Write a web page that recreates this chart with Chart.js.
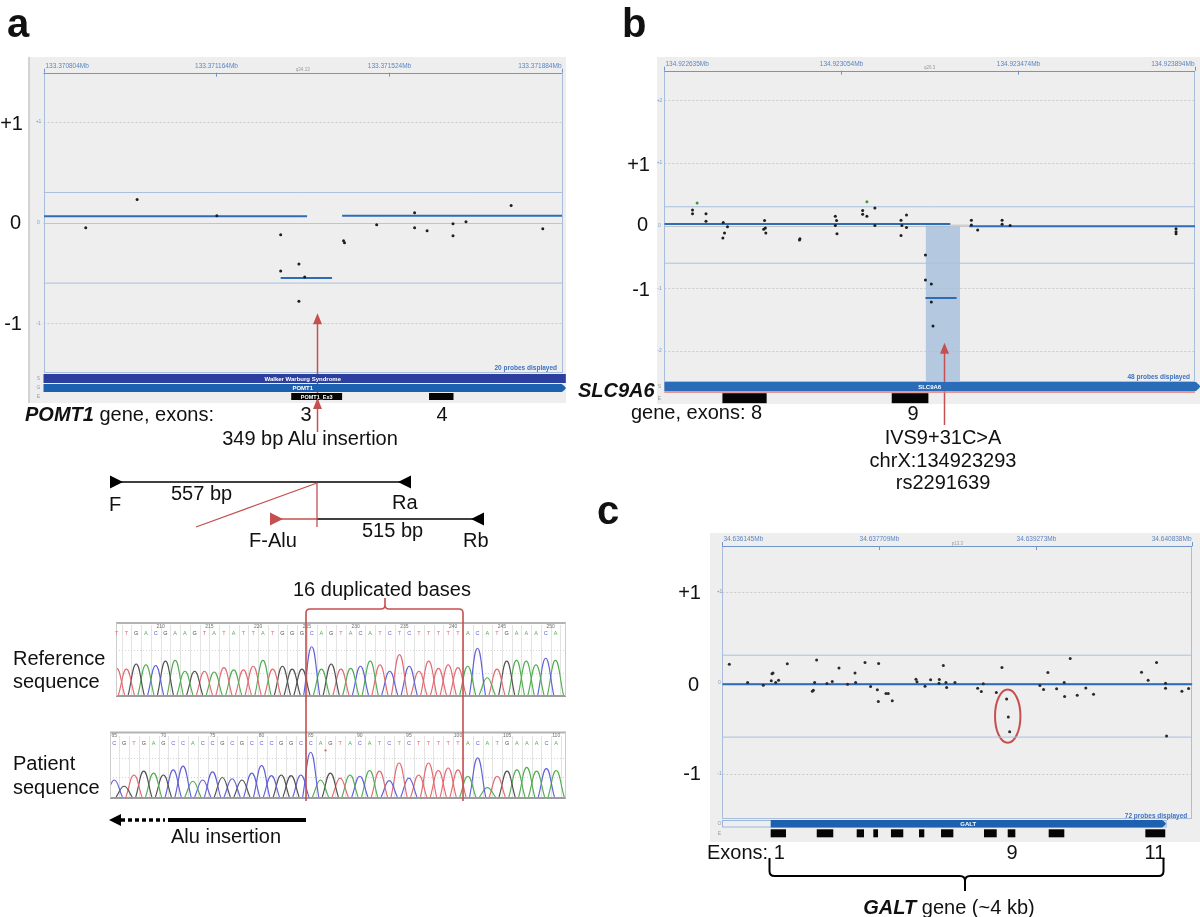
<!DOCTYPE html>
<html><head><meta charset="utf-8">
<script src="https://cdn.jsdelivr.net/npm/chart.js@4.4.1/dist/chart.umd.min.js"></script>
<style>
html,body{margin:0;padding:0;background:#fff;}
#wrap{position:relative;width:1200px;height:917px;overflow:hidden;background:#fff;}
canvas,svg{position:absolute;left:0;top:0;}
</style></head>
<body><div id="wrap">
<canvas id="ca" width="1200" height="917"></canvas>
<canvas id="cb" width="1200" height="917"></canvas>
<canvas id="cc" width="1200" height="917"></canvas>
<canvas id="cr" width="1200" height="917"></canvas>
<canvas id="cp" width="1200" height="917"></canvas>
<svg id="ov" width="1200" height="917" font-family="Liberation Sans, Arial, Helvetica, sans-serif" font-size="20" fill="#111">
 <text x="7" y="37" font-size="40" font-weight="bold">a</text>
 <text x="622" y="37" font-size="40" font-weight="bold">b</text>
 <text x="597" y="524" font-size="40" font-weight="bold">c</text>
 <g text-anchor="end" dominant-baseline="central">
  <text x="23" y="123">+1</text><text x="21" y="222">0</text><text x="22" y="323">-1</text>
  <text x="650" y="164">+1</text><text x="648" y="224">0</text><text x="650" y="289">-1</text>
  <text x="701" y="592">+1</text><text x="699" y="684">0</text><text x="701" y="773">-1</text>
 </g>
 <g dominant-baseline="central">
  <text x="25" y="414"><tspan font-weight="bold" font-style="italic">POMT1</tspan> gene, exons:</text>
  <text x="306" y="414" text-anchor="middle">3</text>
  <text x="442" y="414" text-anchor="middle">4</text>
  <text x="310" y="438" text-anchor="middle">349 bp Alu insertion</text>
  <text x="171" y="493">557 bp</text>
  <text x="109" y="504">F</text>
  <text x="392" y="502">Ra</text>
  <text x="249" y="540">F-Alu</text>
  <text x="362" y="530">515 bp</text>
  <text x="463" y="540">Rb</text>
  <text x="293" y="589">16 duplicated bases</text>
  <text x="13" y="658">Reference</text>
  <text x="13" y="681">sequence</text>
  <text x="13" y="763">Patient</text>
  <text x="13" y="787">sequence</text>
  <text x="171" y="836">Alu insertion</text>
  <text x="578" y="390" font-weight="bold" font-style="italic">SLC9A6</text>
  <text x="631" y="412">gene, exons: 8</text>
  <text x="913" y="413" text-anchor="middle">9</text>
  <text x="943" y="437" text-anchor="middle">IVS9+31C&gt;A</text>
  <text x="943" y="460" text-anchor="middle">chrX:134923293</text>
  <text x="943" y="482" text-anchor="middle">rs2291639</text>
  <text x="707" y="852">Exons: 1</text>
  <text x="1012" y="852" text-anchor="middle">9</text>
  <text x="1155" y="852" text-anchor="middle">11</text>
  <text x="949" y="907" text-anchor="middle"><tspan font-weight="bold" font-style="italic">GALT</tspan> gene (~4 kb)</text>
 </g>
 <text x="324" y="754" font-size="8" fill="#d0463f">*</text>
 <!-- primer diagram -->
 <line x1="115" y1="482" x2="405" y2="482" stroke="#000" stroke-width="1.3"/>
 <line x1="317" y1="519" x2="478" y2="519" stroke="#000" stroke-width="1.3"/>
 <polygon points="110,475.5 110,488.5 123,482" fill="#000"/>
 <polygon points="411,475.5 411,488.5 398,482" fill="#000"/>
 <polygon points="484,512.5 484,525.5 471,519" fill="#000"/>
 <line x1="280" y1="519" x2="317" y2="519" stroke="#c4504f" stroke-width="1.5"/>
 <polygon points="270,512.5 270,525.5 283,519" fill="#c4504f"/>
 <line x1="317" y1="483" x2="317" y2="527" stroke="#c4504f" stroke-width="1.3"/>
 <line x1="196" y1="527" x2="317" y2="483" stroke="#c4504f" stroke-width="1.3"/>
 <!-- duplicated bases bracket -->
 <path d="M306,801 V613 Q306,609 310,609 H381 Q385,609 385,605 V598 M385,605 Q385,609 389,609 H459 Q463,609 463,613 V801" stroke="#c4504f" stroke-width="1.6" fill="none"/>
 <!-- alu insertion arrow -->
 <polygon points="109,820 121,814 121,826" fill="#000"/>
 <line x1="121" y1="820" x2="165" y2="820" stroke="#000" stroke-width="3.5" stroke-dasharray="4,3"/>
 <line x1="168" y1="820" x2="306" y2="820" stroke="#000" stroke-width="4"/>
 <!-- GALT brace -->
 <path d="M769.5,858 V871 Q769.5,876 774.5,876 H960 Q965,876 965,881 V891 M965,881 Q965,876 970,876 H1158.5 Q1163.5,876 1163.5,871 V858" stroke="#000" stroke-width="2" fill="none"/>
</svg>
</div>
<script>
// ================= DATA =================
// Panel a: POMT1 (x = bp offset from 133.370804 Mb, y = log2 ratio)
const aTickLabels = ["133.370804Mb","133.371164Mb","133.371524Mb","133.371884Mb"];
const aTickBp = [0,360,720,1080];
const aProbeBp  = [88,195,361,494,494,532,544,532,625,627,694,773,773,799,853,853,880,974,1040];
const aProbeLog = [-0.05,0.23,0.07,-0.12,-0.48,-0.41,-0.54,-0.78,-0.18,-0.20,-0.02,0.10,-0.05,-0.08,-0.01,-0.13,0.01,0.17,-0.06];
const aSegFrom = [1,494,622];
const aSegTo   = [549,601,1080];
const aSegLog  = [0.063,-0.55,0.07];
const aExonFrom = [516,803];
const aExonTo   = [622,854];
const aExonName = ["POMT1_Ex3",""];

// Panel b: SLC9A6 (x = bp offset from 134.922635 Mb)
const bTickLabels = ["134.922635Mb","134.923054Mb","134.923474Mb","134.923894Mb"];
const bTickBp = [0,420,840,1260];
const bProbeBp  = [67,67,99,99,140,143,139,150,238,240,241,236,321,322,406,409,406,410,471,471,481,500,500,562,564,562,575,575,620,620,634,634,638,729,729,744,802,802,821,1215,1215,1215];
const bProbeLog = [0.25,0.19,0.19,0.07,0.05,-0.12,-0.20,-0.02,0.08,-0.04,-0.12,-0.06,-0.23,-0.21,0.15,0.08,0.00,-0.13,0.24,0.18,0.15,0.28,0.00,0.085,0.00,-0.16,0.17,-0.03,-0.47,-0.87,-0.93,-1.22,-1.60,0.085,0.01,-0.07,0.085,0.02,0.00,-0.05,-0.10,-0.13];
const bFlagBp  = [78,481];
const bFlagLog = [0.36,0.38];
const bSegFrom = [0,620,724];
const bSegTo   = [679,694,1260];
const bSegLog  = [0.027,-1.154,-0.01];
const bGapFrom = 679, bGapTo = 724;
const bHighlight = [621,702];
const bExonFrom = [138,540];
const bExonTo   = [243,627];

// Panel c: GALT (x = bp offset from 34.636145 Mb)
const cTickLabels = ["34.636145Mb","34.637709Mb","34.639273Mb","34.640838Mb"];
const cTickBp = [0,1564,3128,4693];
const cProbeBp  = [70,253,409,496,506,489,533,562,649,899,909,922,942,1045,1098,1165,1251,1325,1331,1425,1481,1548,1558,1561,1634,1657,1697,1934,1944,2024,2080,2167,2164,2207,2233,2240,2323,2550,2586,2606,2736,2792,2839,2856,2869,3171,3208,3251,3338,3414,3418,3474,3544,3630,3707,4186,4252,4336,4426,4426,4436,4589,4656];
const cProbeLog = [0.20,0.00,-0.03,0.095,0.105,0.02,0.00,0.026,0.205,-0.095,-0.085,0.00,0.246,-0.01,0.01,0.16,-0.02,0.105,0.00,0.22,-0.045,-0.08,-0.21,0.21,-0.12,-0.12,-0.20,0.037,0.007,-0.04,0.03,0.033,-0.007,0.187,0.00,-0.055,0.00,-0.062,-0.10,-0.015,-0.11,0.165,-0.18,-0.38,-0.54,-0.033,-0.077,0.11,-0.07,0.00,-0.154,0.264,-0.14,-0.06,-0.13,0.114,0.026,0.22,-0.007,-0.062,-0.587,-0.095,-0.066];
const cSegFrom = [0], cSegTo = [4693], cSegLog = [-0.02];
const cExonFrom = [483,943,1342,1508,1684,1964,2184,2613,2850,3259,4224];
const cExonTo   = [636,1108,1415,1555,1807,2017,2307,2740,2926,3415,4423];
const cGeneFrom = 483, cGeneTo = 4430;
const cCircled = {bp:2850, log:-0.37};

// thresholds
const gainThr = 0.3, lossThr = -0.6;

// Sequencing traces (peak heights, % of trace box)
const refSeq  = "TTGACGAAGTATATTATGGGCAGTACATCTCTTTTTACATGAAACA";
const refPeak = [37,36,43,42,41,47,48,33,33,33,32,38,35,35,40,48,36,40,36,36,67,36,43,36,37,40,47,42,33,56,40,33,47,37,42,38,40,65,24,36,47,48,47,42,51,48];
const refNumbers = [210,215,220,225,230,235,240,245,250];
const refNumOffset = 205.5;
const patSeq  = "CGTGAGCCACCGCGCCCGGCCAGTACATCTCTTTTTACATGAAACA";
const patPeak = [27,17,35,41,38,35,43,49,25,27,40,31,29,27,38,50,34,35,34,35,71,27,38,30,35,33,42,41,26,54,30,35,54,42,46,43,33,62,15,33,41,43,47,41,45,42];
const patNumbers = [65,70,75,80,85,90,95,100,105,110];
const patNumOffset = 65;

// ================= HELPERS =================
const W = 1200, H = 917;
const FONT = '"Liberation Sans", Arial, Helvetica, sans-serif';
const BASE_COLORS = {A:'#52ad52', C:'#6060da', G:'#505050', T:'#e26b73'};
function pad(l,t,r,b){return {left:l,top:t,right:W-r,bottom:H-b};}
function pts(xs,ys){return xs.map((x,i)=>({x:x,y:ys[i]}));}
function segs(from,to,val,color,width){
  return from.map((f,i)=>({data:[{x:f,y:val[i]},{x:to[i],y:val[i]}],showLine:true,borderColor:color,borderWidth:width,pointRadius:0,order:2}));
}
function thrDs(v,min,max){return {data:[{x:min,y:v},{x:max,y:v}],showLine:true,borderColor:'#a9c0de',borderWidth:1,pointRadius:0,order:3};}
function hline(ctx,x0,x1,y){ctx.beginPath();ctx.moveTo(x0,y);ctx.lineTo(x1,y);ctx.stroke();}
function vline(ctx,x,y0,y1){ctx.beginPath();ctx.moveTo(x,y0);ctx.lineTo(x,y1);ctx.stroke();}
function baseOpts(padding,xmin,xmax,ymin,ymax){
  return {responsive:false,animation:false,devicePixelRatio:1,events:[],
    layout:{padding:padding},
    scales:{x:{type:'linear',display:false,min:xmin,max:xmax},y:{type:'linear',display:false,min:ymin,max:ymax}},
    plugins:{legend:{display:false},tooltip:{enabled:false}}};
}
function upHead(ctx,x,y){ctx.beginPath();ctx.moveTo(x,y);ctx.lineTo(x-4.5,y+11);ctx.lineTo(x+4.5,y+11);ctx.closePath();ctx.fill();}

function panelPlugin(P){
  return {id:'panel_'+P.id, beforeDraw(chart){
    const ctx=chart.ctx, ca=chart.chartArea, xs=chart.scales.x, ys=chart.scales.y;
    const X=v=>xs.getPixelForValue(v), Y=v=>ys.getPixelForValue(v);
    ctx.save();
    ctx.fillStyle='#eeeeee';
    ctx.fillRect(P.bg[0],P.bg[1],P.bg[2]-P.bg[0],P.bg[3]-P.bg[1]);
    ctx.lineWidth=1;
    if(P.leftRule){ctx.strokeStyle='#b4b4b4';vline(ctx,P.bg[0]+0.5,P.bg[1],P.bg[3]);}
    ctx.strokeStyle='#cbcbcb'; ctx.setLineDash([2,2]);
    P.yGrid.forEach(v=>hline(ctx,ca.left,ca.right,Math.round(Y(v))+0.5));
    ctx.setLineDash([]);
    ctx.strokeStyle='#c4c4c4'; hline(ctx,ca.left,ca.right,Math.round(Y(0))+0.5);
    if(P.hl){ctx.fillStyle='rgba(160,188,218,0.75)';const x0=X(P.hl[0]),x1=X(P.hl[1]);ctx.fillRect(x0,Y(0),x1-x0,ca.bottom-Y(0));}
    ctx.strokeStyle='#a8bedc';
    ctx.strokeRect(Math.round(ca.left)+0.5,Math.round(ca.top)+0.5,Math.round(ca.width)-1,Math.round(ca.height)-1);
    ctx.strokeStyle='#6f95c9'; hline(ctx,ca.left,ca.right,Math.round(ca.top)+0.5);
    ctx.font='6.5px '+FONT; ctx.fillStyle='#5a86c3';
    const last=P.tickBp.length-1;
    P.tickBp.forEach((v,i)=>{
      const x=Math.round(X(v))+0.5;
      ctx.textAlign = i===0?'left':(i===last?'right':'center');
      ctx.fillText(P.tickLabels[i], x+(i===0?1:(i===last?-1:0)), ca.top-5);
      if(i===0||i===last) vline(ctx,x,ca.top-4,ca.top); else vline(ctx,x,ca.top,ca.top+4);
    });
    ctx.font='4.5px '+FONT; ctx.fillStyle='#9a9a9a'; ctx.textAlign='center';
    ctx.fillText(P.cyto,(ca.left+ca.right)/2,ca.top-1.5);
    ctx.font='5px '+FONT; ctx.fillStyle='#7d9cc9'; ctx.textBaseline='middle';
    P.yLabels.forEach(l=>ctx.fillText(l[1],P.yLabelX,Y(l[0])));
    ctx.textBaseline='alphabetic';
    if(P.arrow){
      const ax=Math.round(X(P.arrow.bp))+0.5, ay=Y(P.arrow.tip);
      ctx.strokeStyle='#c4504f'; ctx.fillStyle='#c4504f'; ctx.lineWidth=1.5;
      vline(ctx,ax,ay+8,P.arrow.bottom);
      upHead(ctx,ax,ay);
    }
    P.tracks.forEach(t=>{
      const x0=X(t.from), x1=X(t.to), y0=ca.bottom+t.dy0, h=t.dy1-t.dy0;
      if(t.outline){ctx.strokeStyle=t.outline;ctx.lineWidth=1;ctx.strokeRect(Math.round(ca.left)+0.5,y0+0.5,x1-ca.left,h-1);}
      ctx.fillStyle=t.color;
      ctx.beginPath();
      if(t.arrow){ctx.moveTo(x0,y0);ctx.lineTo(x1-4,y0);ctx.quadraticCurveTo(x1,y0+h/2-1,x1,y0+h/2);ctx.quadraticCurveTo(x1,y0+h/2+1,x1-4,y0+h);ctx.lineTo(x0,y0+h);ctx.closePath();}
      else ctx.rect(x0,y0,x1-x0,h);
      ctx.fill();
      if(t.label){ctx.font='bold 6px '+FONT;ctx.fillStyle='#ffffff';ctx.textAlign='center';ctx.textBaseline='middle';ctx.fillText(t.label,(x0+Math.min(x1,ca.right))/2,y0+h/2+0.5);ctx.textBaseline='alphabetic';}
    });
    const E=P.exons;
    E.from.forEach((f,i)=>{
      const x0=X(f), x1=X(E.to[i]);
      ctx.fillStyle='#050505'; ctx.fillRect(x0,ca.bottom+E.dy0,x1-x0,E.dy1-E.dy0);
      if(E.labels&&E.labels[i]){ctx.font='bold 5.5px '+FONT;ctx.fillStyle='#fff';ctx.textAlign='center';ctx.textBaseline='middle';ctx.fillText(E.labels[i],(x0+x1)/2,ca.bottom+(E.dy0+E.dy1)/2+0.5);ctx.textBaseline='alphabetic';}
    });
    if(P.arrow&&P.arrow.head2){ctx.fillStyle='#c4504f';upHead(ctx,Math.round(X(P.arrow.bp))+0.5,P.arrow.head2);}
    ctx.font='5px '+FONT; ctx.fillStyle='#9b9b9b'; ctx.textAlign='center'; ctx.textBaseline='middle';
    P.letters.forEach(l=>ctx.fillText(l[0],P.yLabelX,ca.bottom+l[1]));
    ctx.textBaseline='alphabetic';
    ctx.font='bold 6.5px '+FONT; ctx.fillStyle='#3f73bf'; ctx.textAlign='right';
    ctx.fillText(P.probes,ca.right-5,ca.bottom-P.probesDy);
    if(P.circle){ctx.strokeStyle='#c4504f';ctx.lineWidth=2;ctx.beginPath();ctx.ellipse(X(P.circle.bp),Y(P.circle.log),12.7,26.7,0,0,Math.PI*2);ctx.stroke();}
    ctx.restore();
  }};
}

function probeDs(xs,ys,color){return {data:pts(xs,ys),pointRadius:1.5,pointBackgroundColor:color,pointBorderWidth:0,showLine:false,order:0};}

// ================= PANEL A =================
new Chart(document.getElementById('ca'),{
  type:'scatter',
  data:{datasets:[probeDs(aProbeBp,aProbeLog,'#1e1e1e')].concat(segs(aSegFrom,aSegTo,aSegLog,'#2e6db6',2),[thrDs(gainThr,0,1080),thrDs(lossThr,0,1080)])},
  options:baseOpts(pad(43.5,72.7,562,372.7),0,1080,-1.49,1.49),
  plugins:[panelPlugin({id:'a',bg:[28.5,57,566,403],leftRule:true,yGrid:[1,-1],yLabelX:38.5,
    yLabels:[[1,'+1'],[0,'0'],[-1,'-1']],tickBp:aTickBp,tickLabels:aTickLabels,cyto:'q34.13',
    probes:'20 probes displayed',probesDy:3,
    arrow:{bp:570,tip:-0.9,bottom:432,head2:398},
    tracks:[{from:0,to:1088,dy0:1.3,dy1:10.3,color:'#2c3e9e',label:'Walker Warburg Syndrome'},
            {from:0,to:1088,dy0:11.3,dy1:19.3,color:'#1e60b0',label:'POMT1',arrow:true}],
    exons:{from:aExonFrom,to:aExonTo,labels:aExonName,dy0:20.3,dy1:27.3},
    letters:[['S',5.8],['G',15.3],['E',23.8]]})]
});

// ================= PANEL B =================
new Chart(document.getElementById('cb'),{
  type:'scatter',
  data:{datasets:[probeDs(bProbeBp,bProbeLog,'#1e1e1e'),probeDs(bFlagBp,bFlagLog,'#3e9a3e')]
    .concat(segs(bSegFrom,bSegTo,bSegLog,'#2e6db6',2),
      [{data:[{x:bGapFrom,y:0},{x:bGapTo,y:0}],showLine:true,borderColor:'#cfcfcf',borderWidth:2,pointRadius:0,order:2},
       thrDs(gainThr,0,1260),thrDs(lossThr,0,1260)])},
  options:baseOpts(pad(664.3,70.7,1195,381.7),0,1260,-2.49,2.47),
  plugins:[panelPlugin({id:'b',bg:[657,57,1200,404],leftRule:false,yGrid:[2,1,-1,-2],yLabelX:659.5,
    yLabels:[[2,'+2'],[1,'+1'],[0,'0'],[-1,'-1'],[-2,'-2']],tickBp:bTickBp,tickLabels:bTickLabels,cyto:'q26.3',
    probes:'48 probes displayed',probesDy:3,hl:bHighlight,
    arrow:{bp:663,tip:-1.87,bottom:425},
    tracks:[{from:0,to:1272,dy0:0.3,dy1:9.3,color:'#2b6cb8',label:'SLC9A6',arrow:true},
            {from:0,to:1260,dy0:9.6,dy1:11,color:'#e27a7a'}],
    exons:{from:bExonFrom,to:bExonTo,dy0:11.5,dy1:21.5},
    letters:[['S',4.8],['E',16.5]]})]
});

// ================= PANEL C =================
new Chart(document.getElementById('cc'),{
  type:'scatter',
  data:{datasets:[probeDs(cProbeBp,cProbeLog,'#2a2a2a')].concat(segs(cSegFrom,cSegTo,cSegLog,'#2e6db6',2),[thrDs(gainThr,0,4693),thrDs(lossThr,0,4693)])},
  options:baseOpts(pad(722.3,546,1192.3,819),0,4693,-1.5,1.5),
  plugins:[panelPlugin({id:'c',bg:[710,533,1200,842],leftRule:false,yGrid:[1,-1],yLabelX:719.5,
    yLabels:[[1,'+1'],[0,'0'],[-1,'-1']],tickBp:cTickBp,tickLabels:cTickLabels,cyto:'p13.3',
    probes:'72 probes displayed',probesDy:1.5,circle:cCircled,
    tracks:[{from:cGeneFrom,to:cGeneTo,dy0:1,dy1:8.5,color:'#1e60b0',label:'GALT',arrow:true,outline:'#9bb6dc'}],
    exons:{from:cExonFrom,to:cExonTo,dy0:10.3,dy1:18.3},
    letters:[['O',4.8],['E',14.3]]})]
});

// ================= CHROMATOGRAMS =================
function peakDatasets(seq,peaks){
  const ds=[];
  for(let i=0;i<seq.length;i++){
    ds.push({data:[{x:i-0.82,y:0},{x:i,y:peaks[i]},{x:i+0.82,y:0}],showLine:true,
      borderColor:BASE_COLORS[seq[i]],borderWidth:1.15,pointRadius:0,tension:0.45,fill:false});
  }
  return ds;
}
function chromPlugin(seq,numbers,numOffset,numDy,letDy,borderDy){
  return {id:'chrom',
    beforeDraw(chart){
      const ctx=chart.ctx, ca=chart.chartArea, xs=chart.scales.x;
      ctx.save();
      ctx.fillStyle='#fff'; ctx.fillRect(ca.left,ca.top-borderDy,ca.width,ca.height+borderDy+2);
      ctx.strokeStyle='#e3e3e3'; ctx.lineWidth=1;
      for(let i=0;i<=seq.length;i++){const x=Math.round(xs.getPixelForValue(i-0.5))+0.5; if(x<ca.left||x>ca.right)continue; vline(ctx,x,ca.top+2,ca.bottom);}
      ctx.setLineDash([1,2]); ctx.strokeStyle='#d4d4d4';
      [31,62].forEach(v=>hline(ctx,ca.left,ca.right,Math.round(chart.scales.y.getPixelForValue(v))+0.5));
      ctx.setLineDash([]);
      ctx.restore();
    },
    afterDraw(chart){
      const ctx=chart.ctx, ca=chart.chartArea, xs=chart.scales.x;
      ctx.save();
      ctx.strokeStyle='#b3b3b3'; ctx.lineWidth=2; hline(ctx,ca.left,ca.right,ca.top-borderDy);
      ctx.strokeStyle='#9c9c9c'; hline(ctx,ca.left,ca.right,ca.bottom+1);
      ctx.strokeStyle='#cdcdcd'; ctx.lineWidth=1;
      vline(ctx,Math.round(ca.left)+0.5,ca.top-borderDy,ca.bottom+1); vline(ctx,Math.round(ca.right)-0.5,ca.top-borderDy,ca.bottom+1);
      ctx.font='5px '+FONT; ctx.fillStyle='#707070'; ctx.textAlign='center';
      numbers.forEach(n=>{const x=xs.getPixelForValue(n-numOffset); if(x>ca.left+3&&x<ca.right-3) ctx.fillText(String(n),x,ca.top+numDy);});
      ctx.font='5.5px '+FONT;
      for(let i=0;i<seq.length;i++){const x=xs.getPixelForValue(i); if(x<ca.left||x>ca.right)continue; ctx.fillStyle=BASE_COLORS[seq[i]]; ctx.fillText(seq[i],x,ca.top+letDy);}
      ctx.restore();
    }};
}
function chromChart(id,seq,peaks,padding,xmin,xmax,numbers,numOffset,numDy,letDy,borderDy){
  new Chart(document.getElementById(id),{
    type:'scatter',
    data:{datasets:peakDatasets(seq,peaks)},
    options:baseOpts(padding,xmin,xmax,0,100),
    plugins:[chromPlugin(seq,numbers,numOffset,numDy,letDy,borderDy)]
  });
}
chromChart('cr',refSeq,refPeak,pad(116,623,566,695),-0.07,46.08,refNumbers,refNumOffset,4.5,12,0);
chromChart('cp',patSeq,patPeak,pad(110,734,566,797),-0.44,46.0,patNumbers,patNumOffset,2.5,11,1.5);
</script>
</body></html>
